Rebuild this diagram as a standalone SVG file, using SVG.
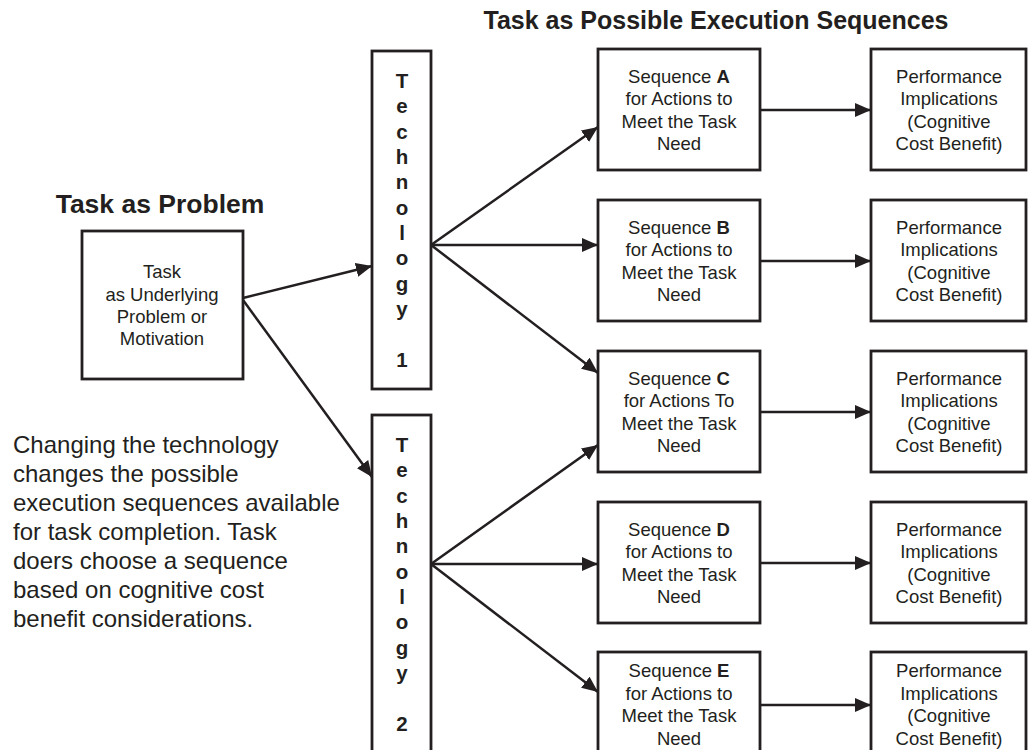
<svg xmlns="http://www.w3.org/2000/svg" width="1028" height="750" viewBox="0 0 1028 750">
  <defs>
    <style>
      text { font-family: "Liberation Sans", Arial, sans-serif; fill: #231f20; }
      .box { fill: #ffffff; stroke: #231f20; stroke-width: 2.8; }
      .edge { stroke: #231f20; stroke-width: 2.5; fill: none; marker-end: url(#arrow); }
      .body { font-size: 18.5px; text-anchor: middle; }
      .tech { font-size: 20.5px; font-weight: bold; text-anchor: middle; }
      .head { font-weight: bold; text-anchor: middle; }
      .note { font-size: 24px; }
    </style>
    <marker id="arrow" markerUnits="userSpaceOnUse" markerWidth="17" markerHeight="15" refX="16" refY="7.5" orient="auto">
      <path d="M0,0.5 L16,7.5 L0,14.5 Z" fill="#231f20"/>
    </marker>
  </defs>

  <rect width="1028" height="750" fill="#ffffff"/>

  <!-- headings -->
  <text class="head" x="716" y="29" font-size="25px">Task as Possible Execution Sequences</text>
  <text class="head" x="160" y="213" font-size="26.5px">Task as Problem</text>

  <!-- explanatory note -->
  <text class="note" x="13" y="453">Changing the technology</text>
  <text class="note" x="13" y="482">changes the possible</text>
  <text class="note" x="13" y="511">execution sequences available</text>
  <text class="note" x="13" y="540">for task completion. Task</text>
  <text class="note" x="13" y="569">doers choose a sequence</text>
  <text class="note" x="13" y="598">based on cognitive cost</text>
  <text class="note" x="13" y="627">benefit considerations.</text>

  <!-- connectors -->
  <g id="connectors">
    <line class="edge" x1="243" y1="298" x2="372" y2="266"/>
    <line class="edge" x1="243" y1="300" x2="372" y2="477"/>
    <line class="edge" x1="431" y1="245" x2="598" y2="127"/>
    <line class="edge" x1="431" y1="245" x2="598" y2="245"/>
    <line class="edge" x1="431" y1="245" x2="598" y2="373"/>
    <line class="edge" x1="431" y1="564" x2="598" y2="445"/>
    <line class="edge" x1="431" y1="564" x2="598" y2="564"/>
    <line class="edge" x1="431" y1="564" x2="598" y2="692"/>
    <line class="edge" x1="760" y1="110" x2="871" y2="110"/>
    <line class="edge" x1="760" y1="261" x2="871" y2="261"/>
    <line class="edge" x1="760" y1="412" x2="871" y2="412"/>
    <line class="edge" x1="760" y1="563" x2="871" y2="563"/>
    <line class="edge" x1="760" y1="705" x2="871" y2="705"/>
  </g>

  <!-- task -->
  <g id="task">
    <rect class="box" x="82" y="231" width="161" height="148"/>
    <text class="body" x="162" y="278">Task</text>
    <text class="body" x="162" y="301">as Underlying</text>
    <text class="body" x="162" y="323">Problem or</text>
    <text class="body" x="162" y="345">Motivation</text>
  </g>

  <!-- technology 1 -->
  <g id="technology1">
    <rect class="box" x="372" y="51" width="59" height="338"/>
    <text class="tech" x="402" y="88">T</text>
    <text class="tech" x="402" y="113">e</text>
    <text class="tech" x="402" y="139">c</text>
    <text class="tech" x="402" y="164">h</text>
    <text class="tech" x="402" y="189">n</text>
    <text class="tech" x="402" y="215">o</text>
    <text class="tech" x="402" y="240">l</text>
    <text class="tech" x="402" y="265">o</text>
    <text class="tech" x="402" y="291">g</text>
    <text class="tech" x="402" y="316">y</text>
    <text class="tech" x="402" y="367">1</text>
  </g>

  <!-- technology 2 -->
  <g id="technology2">
    <rect class="box" x="372" y="415" width="59" height="345"/>
    <text class="tech" x="402" y="452">T</text>
    <text class="tech" x="402" y="477">e</text>
    <text class="tech" x="402" y="503">c</text>
    <text class="tech" x="402" y="528">h</text>
    <text class="tech" x="402" y="553">n</text>
    <text class="tech" x="402" y="579">o</text>
    <text class="tech" x="402" y="604">l</text>
    <text class="tech" x="402" y="629">o</text>
    <text class="tech" x="402" y="655">g</text>
    <text class="tech" x="402" y="680">y</text>
    <text class="tech" x="402" y="731">2</text>
  </g>

  <!-- sequence A -->
  <g id="seqA">
    <rect class="box" x="598" y="49" width="162" height="121"/>
    <text class="body" x="679" y="83">Sequence <tspan font-weight="bold">A</tspan></text>
    <text class="body" x="679" y="105">for Actions to</text>
    <text class="body" x="679" y="128">Meet the Task</text>
    <text class="body" x="679" y="150">Need</text>
  </g>
  <g id="perfA">
    <rect class="box" x="871" y="49" width="155" height="121"/>
    <text class="body" x="949" y="83">Performance</text>
    <text class="body" x="949" y="105">Implications</text>
    <text class="body" x="949" y="128">(Cognitive</text>
    <text class="body" x="949" y="150">Cost Benefit)</text>
  </g>

  <!-- sequence B -->
  <g id="seqB">
    <rect class="box" x="598" y="200" width="162" height="121"/>
    <text class="body" x="679" y="234">Sequence <tspan font-weight="bold">B</tspan></text>
    <text class="body" x="679" y="256">for Actions to</text>
    <text class="body" x="679" y="279">Meet the Task</text>
    <text class="body" x="679" y="301">Need</text>
  </g>
  <g id="perfB">
    <rect class="box" x="871" y="200" width="155" height="121"/>
    <text class="body" x="949" y="234">Performance</text>
    <text class="body" x="949" y="256">Implications</text>
    <text class="body" x="949" y="279">(Cognitive</text>
    <text class="body" x="949" y="301">Cost Benefit)</text>
  </g>

  <!-- sequence C -->
  <g id="seqC">
    <rect class="box" x="598" y="351" width="162" height="121"/>
    <text class="body" x="679" y="385">Sequence <tspan font-weight="bold">C</tspan></text>
    <text class="body" x="679" y="407">for Actions To</text>
    <text class="body" x="679" y="430">Meet the Task</text>
    <text class="body" x="679" y="452">Need</text>
  </g>
  <g id="perfC">
    <rect class="box" x="871" y="351" width="155" height="121"/>
    <text class="body" x="949" y="385">Performance</text>
    <text class="body" x="949" y="407">Implications</text>
    <text class="body" x="949" y="430">(Cognitive</text>
    <text class="body" x="949" y="452">Cost Benefit)</text>
  </g>

  <!-- sequence D -->
  <g id="seqD">
    <rect class="box" x="598" y="502" width="162" height="121"/>
    <text class="body" x="679" y="536">Sequence <tspan font-weight="bold">D</tspan></text>
    <text class="body" x="679" y="558">for Actions to</text>
    <text class="body" x="679" y="581">Meet the Task</text>
    <text class="body" x="679" y="603">Need</text>
  </g>
  <g id="perfD">
    <rect class="box" x="871" y="502" width="155" height="121"/>
    <text class="body" x="949" y="536">Performance</text>
    <text class="body" x="949" y="558">Implications</text>
    <text class="body" x="949" y="581">(Cognitive</text>
    <text class="body" x="949" y="603">Cost Benefit)</text>
  </g>

  <!-- sequence E -->
  <g id="seqE">
    <rect class="box" x="598" y="652" width="162" height="110"/>
    <text class="body" x="679" y="677">Sequence <tspan font-weight="bold">E</tspan></text>
    <text class="body" x="679" y="700">for Actions to</text>
    <text class="body" x="679" y="722">Meet the Task</text>
    <text class="body" x="679" y="745">Need</text>
  </g>
  <g id="perfE">
    <rect class="box" x="871" y="652" width="155" height="110"/>
    <text class="body" x="949" y="677">Performance</text>
    <text class="body" x="949" y="700">Implications</text>
    <text class="body" x="949" y="722">(Cognitive</text>
    <text class="body" x="949" y="745">Cost Benefit)</text>
  </g>
</svg>
